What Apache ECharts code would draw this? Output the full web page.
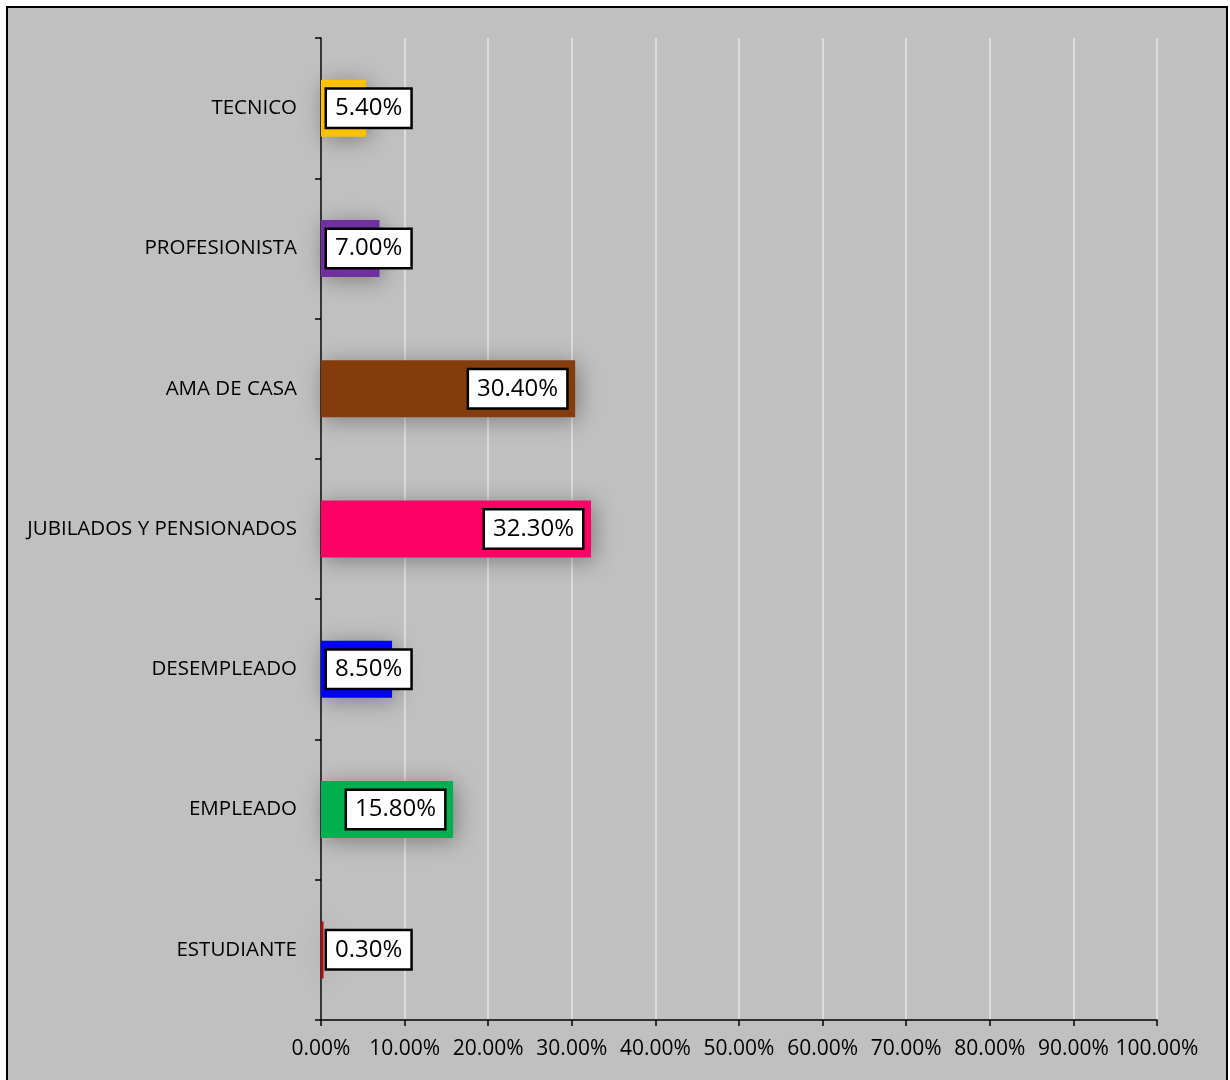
<!DOCTYPE html>
<html><head><meta charset="utf-8">
<script src="https://cdn.jsdelivr.net/npm/echarts@6/dist/echarts.min.js"></script>
<style>
html,body{margin:0;padding:0;background:#fff;overflow:hidden;}
#frame{position:absolute;left:6px;top:6px;width:1218px;height:1100px;border:2px solid #000;background:#c0c0c0;}
#chart{position:absolute;left:0;top:0;width:1230px;height:1080px;}
</style></head>
<body>
<div id="frame"></div>
<div id="chart"></div>
<script>
var categories = ['ESTUDIANTE','EMPLEADO','DESEMPLEADO','JUBILADOS Y PENSIONADOS','AMA DE CASA','PROFESIONISTA','TECNICO'];
var values = [0.3, 15.8, 8.5, 32.3, 30.4, 7.0, 5.4];
var colors = ['#C00000','#00B050','#0000FF','#FF0066','#843C0C','#7030A0','#FFC000'];
var labelInside = [false, true, false, true, true, false, false];

var chart = echarts.init(document.getElementById('chart'), null, {renderer:'canvas'});
var font = '"Open Sans", sans-serif';
var data = values.map(function(v,i){
  return {
    value: v,
    itemStyle: {color: colors[i], shadowBlur: 22, shadowColor: 'rgba(0,0,0,0.35)', shadowOffsetX: 3, shadowOffsetY: 3},
    label: labelInside[i] ? {position:'insideRight', distance: 9} : {position:'insideLeft', distance: 6}
  };
});
chart.setOption({
  backgroundColor: 'transparent',
  animation: false,
  grid: {left: 321, right: 73, top: 38, bottom: 60},
  xAxis: {
    type: 'value', min: 0, max: 100, interval: 10,
    axisLine: {show: true, lineStyle: {color: '#000', width: 1.5}},
    axisTick: {show: true, length: 6, lineStyle: {color: '#000', width: 1.5}},
    splitLine: {show: true, lineStyle: {color: '#e6e6e6', width: 1.5}},
    axisLabel: {margin: 19, fontSize: 21, color: '#000', fontFamily: font,
      formatter: function(v){ return v.toFixed(2) + '%'; }}
  },
  yAxis: {
    type: 'category', data: categories,
    axisLine: {show: true, lineStyle: {color: '#000', width: 1.5}},
    axisTick: {show: true, length: 6, lineStyle: {color: '#000', width: 1.5}},
    splitLine: {show: false},
    axisLabel: {margin: 24, fontSize: 20.5, color: '#000', fontFamily: font}
  },
  series: [{
    type: 'bar', data: data, barWidth: 57,
    label: {show: true, fontSize: 24, color: '#000', fontFamily: font,
      backgroundColor: '#fff', borderColor: '#000', borderWidth: 2.5, padding: [7, 8, 6, 8],
      formatter: function(p){ return p.value.toFixed(2) + '%'; }}
  }]
});
</script>
</body></html>
